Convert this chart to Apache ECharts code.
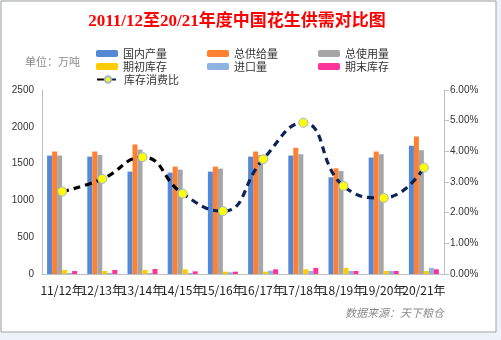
<!DOCTYPE html>
<html><head><meta charset="utf-8">
<script src="https://cdn.jsdelivr.net/npm/echarts@6/dist/echarts.min.js"></script>
<style>html,body{margin:0;padding:0;background:#eef3fa;}#c{width:501px;height:340px;}</style>
</head><body><div id="c"></div>
<script>
const categories = ['11/12年','12/13年','13/14年','14/15年','15/16年','16/17年','17/18年','18/19年','19/20年','20/21年'];
const domesticOutput = [1609,1595,1391,1377,1391,1595,1609,1314,1582,1741];
const totalSupply   = [1664,1664,1759,1459,1459,1664,1714,1436,1664,1868];
const totalUse      = [1609,1618,1691,1418,1432,1614,1627,1400,1627,1682];
const openingStock  = [55,41,55,64,32,32,64,82,41,41];
const imports       = [14,14,14,14,23,45,41,41,41,82];
const endingStock   = [41,55,68,36,32,64,82,41,41,64];
const stockRatio    = [2.69,3.10,3.81,2.62,2.05,3.74,4.93,2.87,2.48,3.47];
const leftTicks = [0,500,1000,1500,2000,2500];
const rightTicks = [0,1,2,3,4,5,6];

const chart = echarts.init(document.getElementById('c'));
const names = ['国内产量','总供给量','总使用量','期初库存','进口量','期末库存'];
const colors = ['#5588d5','#ff8033','#a6a6a6','#ffcc00','#8db3e2','#ff3399'];
const datas = [domesticOutput,totalSupply,totalUse,openingStock,imports,endingStock];
const barSeries = names.map((n,i)=>({name:n,type:'bar',data:datas[i],barWidth:5,barGap:'0%',
  itemStyle:{color:colors[i]},yAxisIndex:0,z:2}));
const lineSeries = {name:'库存消费比',type:'line',yAxisIndex:1,data:stockRatio,smooth:0.5,
  symbol:'circle',symbolSize:9,z:5,
  lineStyle:{width:3.2,type:[7,5],color:new echarts.graphic.LinearGradient(0,0,1,0,[
    {offset:0,color:'#000000'},{offset:0.33,color:'#000000'},{offset:0.36,color:'#0c2357'},{offset:1,color:'#0c2357'}])},
  itemStyle:{color:'#ffff00',borderColor:'#9fb6d0',borderWidth:1}};
const legPos = [[96,48],[207,48],[318,48],[96,61],[207,61],[318,61],[96,74]];
const legendNames = names.concat(['库存消费比']);
const legends = legendNames.map((n,i)=>({data:[n],left:legPos[i][0],top:legPos[i][1],itemWidth:22,itemHeight:7,
  itemGap:6,textStyle:{fontSize:11,color:'#333',fontFamily:'Noto Sans CJK SC'},padding:0}));
legends[6].itemHeight = 8;

chart.setOption({
  animation:false,
  backgroundColor:'#eef3fa',
  graphic:[{type:'rect',shape:{x:1,y:1,width:495,height:331},style:{fill:'#ffffff',stroke:'#a0a0a0',lineWidth:1},z:-10},
    {type:'text',left:345,top:307,style:{text:'数据来源：天下粮仓',fill:'#8a8a8a',font:'italic 11px "Noto Sans CJK SC"'}},
    {type:'text',left:25,top:56,style:{text:'单位：万吨',fill:'#8a8a8a',font:'11px "Noto Sans CJK SC"'}}],
  title:{text:'2011/12至20/21年度中国花生供需对比图',left:232,textAlign:'center',top:8,
    textStyle:{color:'#ff0000',fontSize:17,fontWeight:'bold',fontFamily:'"Liberation Serif","Noto Sans CJK SC"'}},
  legend:legends,
  grid:{left:42,right:57,top:90,bottom:66},
  xAxis:{type:'category',data:categories,axisTick:{show:false},
    axisLine:{lineStyle:{color:'#bfbfbf'}},
    axisLabel:{fontSize:12,color:'#222',margin:10,interval:0,fontFamily:'"Noto Sans CJK SC"'}},
  yAxis:[{type:'value',min:0,max:2500,interval:500,splitLine:{show:false},
      axisLine:{show:true,lineStyle:{color:'#bfbfbf'}},axisTick:{show:false},
      axisLabel:{fontSize:10,color:'#333',margin:8,formatter:v=>String(v)}},
    {type:'value',min:0,max:6,interval:1,splitLine:{show:false},
      axisLine:{show:true,lineStyle:{color:'#bfbfbf'}},axisTick:{show:true,length:5,lineStyle:{color:'#bfbfbf'}},
      axisLabel:{fontSize:10,color:'#333',margin:6,formatter:v=>v.toFixed(2)+'%'}}],
  series:barSeries.concat([lineSeries])
});
</script></body></html>
